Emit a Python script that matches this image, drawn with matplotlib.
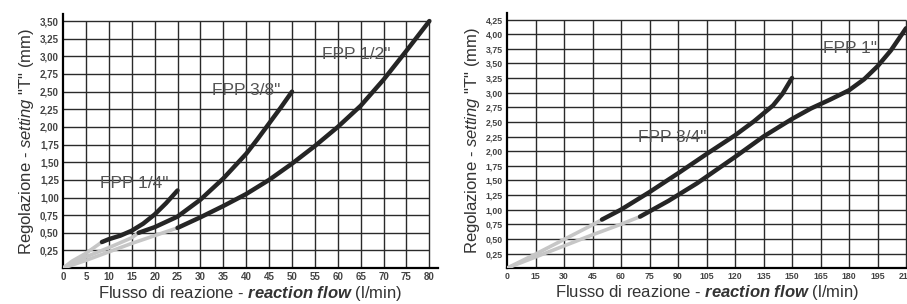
import numpy as np
import matplotlib.pyplot as plt

# ---- dati ----
# grafico sinistro: FPP 1/4", 3/8", 1/2"
x_14_gray = [0, 2, 5, 8.5]
y_14_gray = [0, 0.10, 0.21, 0.37]
x_14 = [8.5, 10, 12.5, 15, 17.5, 20, 22.5, 25]
y_14 = [0.37, 0.41, 0.46, 0.53, 0.63, 0.76, 0.92, 1.10]

x_38_gray = [0, 2, 5, 10, 15, 16.5]
y_38_gray = [0, 0.07, 0.16, 0.29, 0.43, 0.50]
x_38 = [16.5, 20, 25, 30, 35, 40, 42.5, 45, 47.5, 50]
y_38 = [0.50, 0.58, 0.73, 0.97, 1.27, 1.62, 1.83, 2.05, 2.27, 2.50]

x_12_gray = [0, 5, 10, 15, 20, 25]
y_12_gray = [0, 0.11, 0.23, 0.35, 0.46, 0.57]
x_12 = [25, 30, 35, 40, 45, 50, 55, 60, 65, 70, 75, 80]
y_12 = [0.57, 0.72, 0.88, 1.05, 1.25, 1.48, 1.73, 2.00, 2.30, 2.67, 3.08, 3.50]

# grafico destro: FPP 3/4", 1"
x_34_gray = [0, 15, 30, 45, 50]
y_34_gray = [0, 0.24, 0.49, 0.74, 0.83]
x_34 = [50, 60, 75, 90, 105, 120, 130, 140, 145, 150]
y_34 = [0.83, 1.00, 1.30, 1.62, 1.95, 2.27, 2.51, 2.78, 2.98, 3.25]

x_1_gray = [0, 15, 30, 45, 60, 70]
y_1_gray = [0, 0.19, 0.38, 0.57, 0.75, 0.88]
x_1 = [70, 85, 100, 120, 135, 150, 160, 170, 180, 188, 195, 202, 210]
y_1 = [0.88, 1.15, 1.45, 1.90, 2.25, 2.55, 2.73, 2.88, 3.04, 3.23, 3.45, 3.72, 4.10]

xticks_l = list(range(0, 81, 5))
yticks_l = [0.25 * i for i in range(1, 15)]
xticks_r = list(range(0, 211, 15))
yticks_r = [0.25 * i for i in range(1, 18)]

plt.rcParams['font.family'] = ['Liberation Sans', 'DejaVu Sans']
plt.rcParams['mathtext.fontset'] = 'custom'
plt.rcParams['mathtext.rm'] = 'Liberation Sans'
plt.rcParams['mathtext.it'] = 'Liberation Sans:italic'
plt.rcParams['mathtext.bf'] = 'Liberation Sans:bold'
plt.rcParams['mathtext.bfit'] = 'Liberation Sans:bold:italic'

fig = plt.figure(figsize=(9.07, 3.04), dpi=100)
ax1 = fig.add_axes([0.0695, 0.118, 0.413, 0.836])
ax2 = fig.add_axes([0.559, 0.118, 0.442, 0.839])

GRID = '#2a2a2a'
GRAY = '#c6c6c6'
DARK = '#252525'
TXT = '#444444'


def base(ax, xt, yt, xmax, ymax, xlim, ylim, tick_fs):
    ax.set_xlim(0, xlim)
    ax.set_ylim(0, ylim)
    ax.hlines(yt, 0, xmax, color=GRID, lw=1.0, zorder=1)
    ax.vlines(xt[1:], 0, ymax, color=GRID, lw=1.0, zorder=1)
    for s in ['top', 'right']:
        ax.spines[s].set_visible(False)
    ax.spines['left'].set_linewidth(1.6)
    ax.spines['bottom'].set_linewidth(1.6)
    ax.set_xticks(xt)
    ax.set_xticklabels([str(v) for v in xt], fontweight='bold')
    ax.set_yticks(yt)
    ax.set_yticklabels([f"{v:.2f}".replace('.', ',') for v in yt], fontweight='bold')
    ax.tick_params(length=0, pad=3, labelsize=tick_fs, colors=TXT)
    ax.set_xlabel('Flusso di reazione - $\\mathbfit{reaction\\ flow}$ (l/min)',
                  fontsize=12, color='#333333', labelpad=1)
    ax.set_ylabel('Regolazione - $\\mathit{setting}$ "T" (mm)', fontsize=12,
                  color='#333333', labelpad=3)


base(ax1, xticks_l, yticks_l, 80, 3.5, 81.8, 3.6, 7)
base(ax2, xticks_r, yticks_r, 210, 4.25, 211, 4.36, 6.3)

lw_b, lw_g = 3.2, 2.6
for xs, ys in [(x_14_gray, y_14_gray), (x_38_gray, y_38_gray), (x_12_gray, y_12_gray)]:
    ax1.plot(xs, ys, color=GRAY, lw=lw_g, zorder=3, solid_capstyle='round')
for xs, ys in [(x_14, y_14), (x_38, y_38), (x_12, y_12)]:
    ax1.plot(xs, ys, color=DARK, lw=lw_b, zorder=4, solid_capstyle='round')
for xs, ys in [(x_34_gray, y_34_gray), (x_1_gray, y_1_gray)]:
    ax2.plot(xs, ys, color=GRAY, lw=lw_g, zorder=3, solid_capstyle='round')
for xs, ys in [(x_34, y_34), (x_1, y_1)]:
    ax2.plot(xs, ys, color=DARK, lw=lw_b, zorder=4, solid_capstyle='round')

lab = dict(fontsize=12.5, color='#555555', ha='center', va='center', zorder=5)
ax1.text(15.6, 1.2, 'FPP 1/4"', **lab)
ax1.text(40, 2.52, 'FPP 3/8"', **lab)
ax1.text(64, 3.02, 'FPP 1/2"', **lab)
ax2.text(86.7, 2.24, 'FPP 3/4"', **lab)
ax2.text(180.5, 3.75, 'FPP 1"', **lab)

fig.savefig('out.png', dpi=100)
